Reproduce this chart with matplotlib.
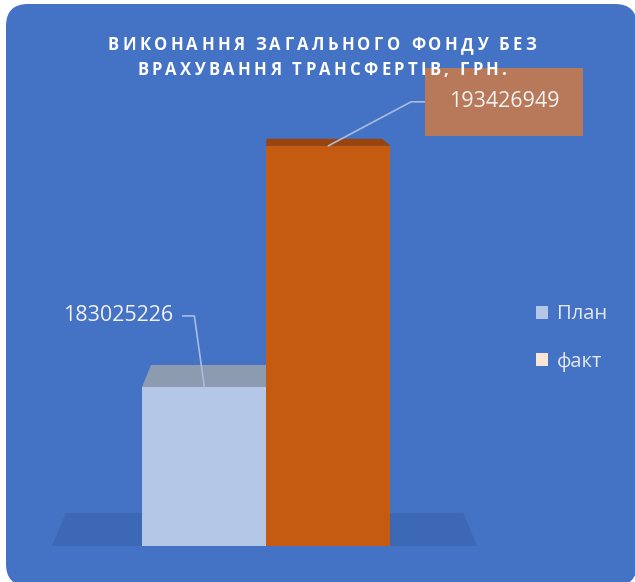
import matplotlib
matplotlib.use("Agg")
import matplotlib.pyplot as plt
from matplotlib.patches import FancyBboxPatch, Polygon, Patch
from matplotlib.transforms import IdentityTransform

title_lines = ["ВИКОНАННЯ ЗАГАЛЬНОГО ФОНДУ БЕЗ", "ВРАХУВАННЯ ТРАНСФЕРТІВ, ГРН."]
categories = ["План", "факт"]
values = [183025226, 193426949]
value_labels = ["183025226", "193426949"]

BG, FLOOR = "#4472C4", "#3D68B6"
FRONT = ["#B4C7E7", "#C55A11"]
TOP = ["#8D9BB1", "#9A430B"]
LEGEND_COL = ["#B4C7E7", "#FBE5D6"]
LEADER = "#A9BCE0"
FONT = ["Open Sans", "DejaVu Sans"]

W, H, DPI = 635, 582, 100
fig = plt.figure(figsize=(W / DPI, H / DPI), dpi=DPI)
fig.patch.set_facecolor("white")
fig.add_artist(FancyBboxPatch((6, -4), 631, 582, boxstyle="round,pad=0,rounding_size=22",
                              fc=BG, ec="none", transform=IdentityTransform(), zorder=-5))

# ---- bars on a truncated value axis, with a fake 3D floor / top faces ----
ax = fig.add_axes([52 / W, 36 / H, 425 / W, 446 / H])
ax.set_xlim(-1.23, 2.20)
ax.set_ylim(176.2e6, 195.4e6)
ax.axis("off")
x = list(range(len(values)))
ax.bar(x, values, width=1.0, color=FRONT, zorder=2)

vp = (ax.transData.transform((0.5, 0))[0], H - 38)  # vanishing point, display px
k = 0.065
def back(p):
    return (p[0] + k * (vp[0] - p[0]), p[1] + k * (vp[1] - p[1]))

x0, x1 = ax.get_xlim(); y0 = ax.get_ylim()[0]
fl, fr = ax.transData.transform((x0, y0)), ax.transData.transform((x1, y0))
ax.add_patch(Polygon([fl, fr, back(fr), back(fl)], closed=True, fc=FLOOR, ec="none",
                     transform=IdentityTransform(), clip_on=False, zorder=1))
for xi, v, c in zip(x, values, TOP):
    a, b = ax.transData.transform((xi - 0.5, v)), ax.transData.transform((xi + 0.5, v))
    ax.add_patch(Polygon([a, b, back(b), back(a)], closed=True, fc=c, ec="none",
                         transform=IdentityTransform(), clip_on=False, zorder=2))

# ---- data labels with leader lines ----
ax.annotate(value_labels[0], xy=(0, values[0]), xytext=(-22.7, 51.5), textcoords="offset points",
            ha="right", va="center", fontsize=15.5, color="#F2F2F2", family=FONT,
            arrowprops=dict(arrowstyle="-", color=LEADER, lw=1.2, shrinkA=5, shrinkB=0,
                            connectionstyle="angle,angleA=0,angleB=98,rad=0"))
ax.annotate(value_labels[1], xy=(1, values[1]), xytext=(126.4, 31.7), textcoords="offset points",
            ha="center", va="center", fontsize=15.5, color="#F2F2F2", family=FONT,
            bbox=dict(boxstyle="square,pad=1.1", fc="#B8795A", ec="none"),
            arrowprops=dict(arrowstyle="-", color=LEADER, lw=1.2, shrinkA=0, shrinkB=0,
                            connectionstyle="angle,angleA=0,angleB=28,rad=0"))

# ---- letter-spaced title ----
renderer = fig.canvas.get_renderer()
def text_w(s, size):
    t = fig.text(0, 0, s, fontsize=size, fontweight="bold", family=FONT)
    w = t.get_window_extent(renderer).width
    t.remove()
    return w

def spaced(line, base_px, size=12, track=3.3, xc=322):
    total = text_w(line, size) + (len(line) - 1) * track
    start = xc - total / 2
    for i, ch in enumerate(line):
        if ch == " ":
            continue
        left = text_w(line[:i + 1], size) - text_w(ch, size) if i else 0
        fig.text(start + left + i * track, H - base_px, ch, fontsize=size, fontweight="bold",
                 color="white", family=FONT, ha="left", va="baseline",
                 transform=IdentityTransform())

spaced(title_lines[0], 50)
spaced(title_lines[1], 75)

handles = [Patch(fc=c, ec="none") for c in LEGEND_COL]
leg = fig.legend(handles, categories, loc="center left", bbox_to_anchor=(536 / W, 1 - 338 / H),
                 frameon=False, handlelength=0.6, handleheight=0.6,
                 handletextpad=0.45, labelspacing=1.35, borderpad=0, borderaxespad=0,
                 prop={"family": FONT, "size": 14.5})
for t in leg.get_texts():
    t.set_color("#E3E9F4")

fig.savefig("out.png", dpi=DPI)
